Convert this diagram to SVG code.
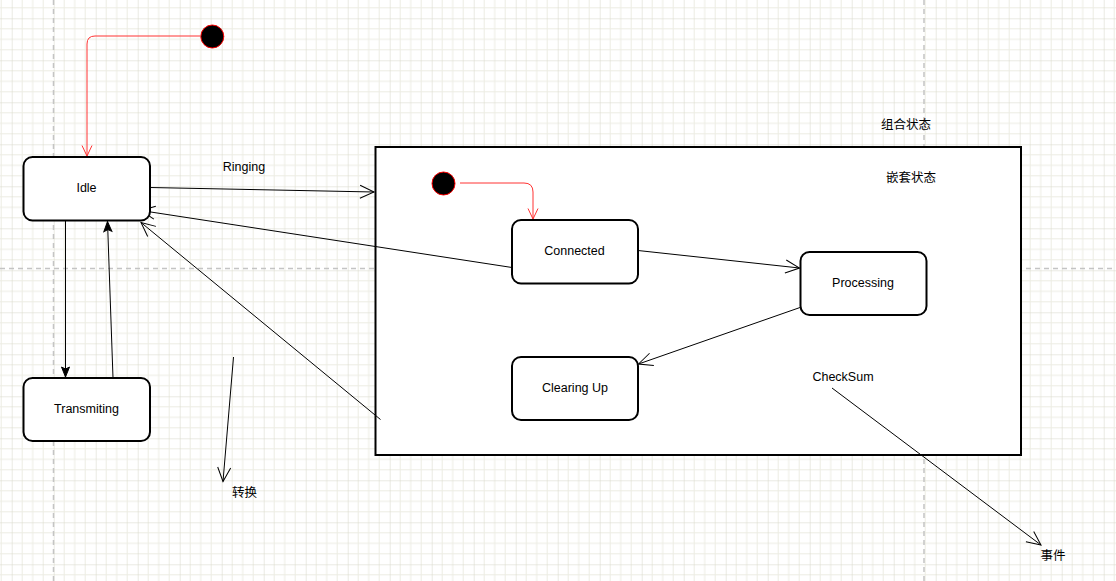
<svg xmlns="http://www.w3.org/2000/svg" width="1116" height="581" viewBox="0 0 1116 581">
<style>
.node{fill:#fff;stroke:#000;stroke-width:2}
.lbl{font-family:"Liberation Sans",Arial,"Noto Sans CJK SC",sans-serif;font-size:12.5px;fill:#000;text-anchor:middle}
.cjk{font-family:"Noto Sans CJK SC","Liberation Sans",sans-serif;font-size:12.5px;fill:#000;text-anchor:middle}
.edge{fill:none;stroke:#000;stroke-width:1}
.red{fill:none;stroke:#ff3333;stroke-width:1}
.init{fill:#000;stroke:#ff0000;stroke-width:1}
.page{stroke:#c4c4c4;stroke-width:1.5;stroke-dasharray:5 4;fill:none}
</style>
<defs>
<pattern id="grid" patternUnits="userSpaceOnUse" x="11.7" y="18.3" width="42" height="42">
<path d="M10.5,0V42M21,0V42M31.5,0V42M0,10.5H42M0,21H42M0,31.5H42" stroke="#ececE3" stroke-width="1" fill="none"/>
<path d="M0,0V42M0,0H42" stroke="#d6d6c8" stroke-width="1" fill="none"/>
</pattern>
<marker id="open" markerUnits="userSpaceOnUse" viewBox="-16 -10 20 20" markerWidth="20" markerHeight="20" refX="0" refY="0" orient="auto">
<path d="M-14,-6.5L0,0L-14,6.5" fill="none" stroke="#000" stroke-width="1"/>
</marker>
<marker id="openred" markerUnits="userSpaceOnUse" viewBox="-16 -10 20 20" markerWidth="20" markerHeight="20" refX="0" refY="0" orient="auto">
<path d="M-10.5,-5L0,0L-10.5,5" fill="none" stroke="#ff3333" stroke-width="1"/>
</marker>
<marker id="filled" markerUnits="userSpaceOnUse" viewBox="-16 -10 20 20" markerWidth="20" markerHeight="20" refX="0" refY="0" orient="auto">
<path d="M-10,-4L0,0L-10,4L-8,0Z" fill="#000" stroke="#000" stroke-width="1"/>
</marker>
</defs>
<rect width="1116" height="581" fill="#fff"/>
<rect width="1116" height="581" fill="url(#grid)"/>
<g id="pagebreaks">
<path class="page" d="M53.5,0V581M924,0V581M0,268.5H1116"/>
</g>
<g id="composite">
<rect class="node" x="375.5" y="147" width="645.5" height="308"/>
<text class="cjk" x="906" y="129">组合状态</text>
<text class="cjk" x="911" y="182">嵌套状态</text>
</g>
<g id="connectors">
<path class="red" d="M200,36H95Q87,36 87,44V156" marker-end="url(#openred)"/>
<path class="red" d="M460,183H524Q533,183 533,192V219" marker-end="url(#openred)"/>
<path class="edge" d="M150,187.5L374,192" marker-end="url(#open)"/>
<path class="edge" d="M512,267.5L141,210.5" marker-end="url(#open)"/>
<path class="edge" d="M380.5,419.5L141,222.5" marker-end="url(#open)"/>
<path class="edge" d="M65.5,221V377" marker-end="url(#filled)"/>
<path class="edge" d="M113,378L107.5,221.5" marker-end="url(#filled)"/>
<path class="edge" d="M638,250.5L799.5,268" marker-end="url(#open)"/>
<path class="edge" d="M800,307.5L638.5,364" marker-end="url(#open)"/>
<path class="edge" d="M832,388L1041,545" marker-end="url(#open)"/>
<path class="edge" d="M233.5,357L223,481.5" marker-end="url(#open)"/>
<text class="lbl" x="244" y="171">Ringing</text>
<text class="lbl" x="843" y="381">CheckSum</text>
<text class="cjk" x="1053" y="560">事件</text>
<text class="cjk" x="244.5" y="497">转换</text>
</g>
<g id="init-top">
<circle class="init" cx="212.3" cy="36.5" r="11.5"/>
</g>
<g id="init-inner">
<circle class="init" cx="443.5" cy="183.5" r="11.5"/>
</g>
<g id="idle">
<rect class="node" x="23.5" y="157" width="126.5" height="63.5" rx="9"/>
<text class="lbl" x="86.5" y="191.5">Idle</text>
</g>
<g id="transmiting">
<rect class="node" x="23.5" y="378" width="126.5" height="63" rx="9"/>
<text class="lbl" x="86.5" y="413">Transmiting</text>
</g>
<g id="connected">
<rect class="node" x="512" y="220" width="126" height="63.5" rx="9"/>
<text class="lbl" x="574.5" y="254.5">Connected</text>
</g>
<g id="processing">
<rect class="node" x="800.5" y="252" width="126" height="63" rx="9"/>
<text class="lbl" x="863" y="287">Processing</text>
</g>
<g id="clearingup">
<rect class="node" x="512" y="357" width="126" height="63" rx="9"/>
<text class="lbl" x="575" y="392">Clearing Up</text>
</g>
</svg>
